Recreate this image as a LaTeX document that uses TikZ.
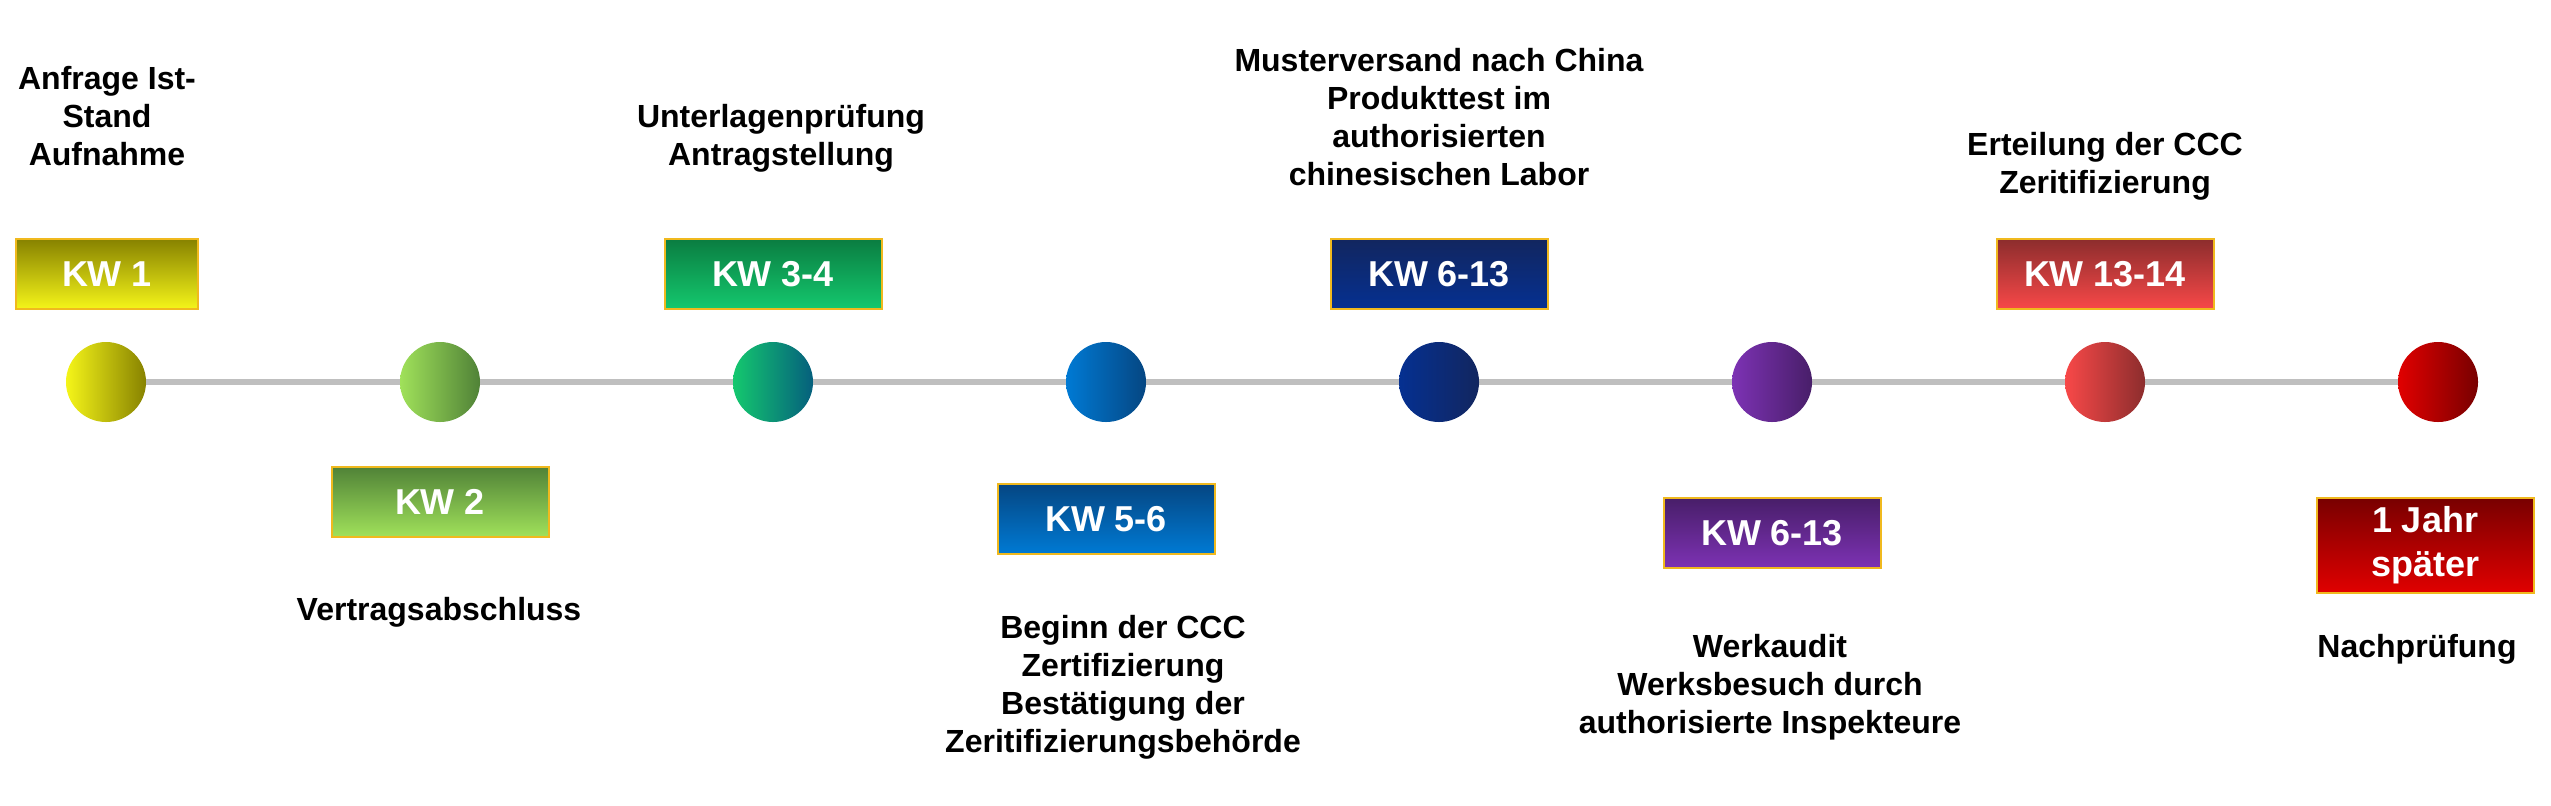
\documentclass[tikz,border=0pt]{standalone}
\usepackage{fontspec}
\setmainfont{Liberation Sans}
\usepackage{tikz}
\usetikzlibrary{backgrounds}
\usetikzlibrary{shapes}

\definecolor{rimGold}{RGB}{240,185,30}
\definecolor{axisGray}{RGB}{191,191,191}
\definecolor{lightA}{RGB}{245,245,25}   \definecolor{darkA}{RGB}{135,130,0}
\definecolor{lightB}{RGB}{160,225,90}   \definecolor{darkB}{RGB}{80,130,55}
\definecolor{lightC}{RGB}{20,200,110}   \definecolor{darkC}{RGB}{5,95,125}
\definecolor{darkCbox}{RGB}{10,125,65}
\definecolor{lightD}{RGB}{0,122,212}    \definecolor{darkD}{RGB}{5,70,130}
\definecolor{lightE}{RGB}{5,48,145}     \definecolor{darkE}{RGB}{18,38,95}
\definecolor{lightF}{RGB}{125,50,180}   \definecolor{darkF}{RGB}{72,30,105}
\definecolor{lightG}{RGB}{248,72,72}    \definecolor{darkG}{RGB}{140,45,45}
\definecolor{lightH}{RGB}{225,0,0}      \definecolor{darkH}{RGB}{120,0,0}

\tikzset{kwbox/.style={draw=rimGold, line width=1pt, minimum width=108.5pt, minimum height=35pt, inner sep=0pt, text=white, align=center, font=\bfseries\fontsize{18pt}{22pt}\selectfont}}
\tikzset{kwdot/.style={circle, minimum size=40pt, inner sep=0pt}}
\tikzset{steptext/.style={anchor=base, align=center, inner sep=0pt, font=\bfseries\fontsize{16pt}{19pt}\selectfont}}

\begin{document}
\begin{tikzpicture}[x=0.5pt, y=-0.5pt]
\useasboundingbox (0,0) rectangle (2551,805);

\node[kwdot, left color=lightA, right color=darkA] (p1) at (106, 382) {};
\node[kwdot, left color=lightB, right color=darkB] (p2) at (440, 382) {};
\node[kwdot, left color=lightC, right color=darkC] (p3) at (773, 382) {};
\node[kwdot, left color=lightD, right color=darkD] (p4) at (1106, 382) {};
\node[kwdot, left color=lightE, right color=darkE] (p5) at (1439, 382) {};
\node[kwdot, left color=lightF, right color=darkF] (p6) at (1772, 382) {};
\node[kwdot, left color=lightG, right color=darkG] (p7) at (2105, 382) {};
\node[kwdot, left color=lightH, right color=darkH] (p8) at (2438, 382) {};

\begin{pgfonlayer}{background}
\draw[axisGray, line width=3pt] (p1.center) -- (p8.center);
\end{pgfonlayer}

\node[kwbox, minimum width=91pt, top color=darkA, bottom color=lightA] (k1) at (107, 274) {KW 1};
\node[kwbox, top color=darkB, bottom color=lightB] (k2) at (440, 501.5) {KW 2};
\node[kwbox, top color=darkCbox, bottom color=lightC] (k3) at (773, 274) {KW 3-4};
\node[kwbox, top color=darkD, bottom color=lightD] (k4) at (1106, 519) {KW 5-6};
\node[kwbox, top color=darkE, bottom color=lightE] (k5) at (1439, 274) {KW 6-13};
\node[kwbox, top color=darkF, bottom color=lightF] (k6) at (1772, 533) {KW 6-13};
\node[kwbox, top color=darkG, bottom color=lightG] (k7) at (2105, 274) {KW 13-14};
\node[kwbox, minimum height=47.5pt, top color=darkH, bottom color=lightH] (k8) at (2425, 545.5) {1 Jahr\\später};

% base = baseline of the last line
\node[steptext] (t1) at (107, 165) {Anfrage Ist-\\Stand\\Aufnahme};
\node[steptext] (t2) at (439, 620) {Vertragsabschluss};
\node[steptext] (t3) at (781, 165) {Unterlagenprüfung\\Antragstellung};
\node[steptext] (t4) at (1123, 752) {Beginn der CCC\\Zertifizierung\\Bestätigung der\\Zeritifizierungsbehörde};
\node[steptext] (t5) at (1439, 185) {Musterversand nach China\\Produkttest im\\authorisierten\\chinesischen Labor};
\node[steptext] (t6) at (1770, 733) {Werkaudit\\Werksbesuch durch\\authorisierte Inspekteure};
\node[steptext] (t7) at (2105, 193) {Erteilung der CCC\\Zeritifizierung};
\node[steptext] (t8) at (2417, 657) {Nachprüfung};

\end{tikzpicture}
\end{document}
